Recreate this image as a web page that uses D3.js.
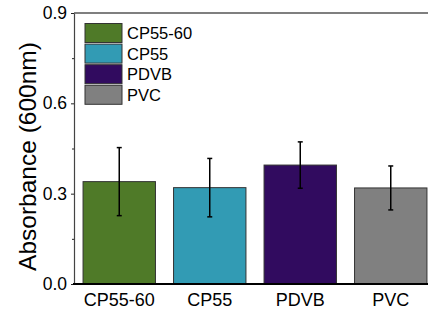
<!DOCTYPE html>
<html lang="en">
<head>
<meta charset="utf-8">
<title>Absorbance</title>
<script src="https://cdn.jsdelivr.net/npm/d3@7/dist/d3.min.js"></script>
<style>
  body { margin: 0; background: #fff; }
  svg { display: block; font-family: Arial, "Liberation Sans", sans-serif; }
</style>
</head>
<body>
<script>
var categories = ["CP55-60", "CP55", "PDVB", "PVC"];
var values = [0.340, 0.320, 0.395, 0.319];
var errors = [0.113, 0.097, 0.077, 0.073];
var colors = ["#4f7a28", "#329bb4", "#310b5f", "#808080"];
var yTicks = [0.0, 0.3, 0.6, 0.9];
var yMinor = [0.15, 0.45, 0.75];

var W = 428, H = 321;
var plotL = 74, plotT = 13, plotB = 284, plotR = 436;

var svg = d3.select("body").append("svg").attr("width", W).attr("height", H);

var x = d3.scaleBand().domain(categories).range([plotL, plotR])
  .paddingInner(0.2).paddingOuter(0.1);
var y = d3.scaleLinear().domain([0, 0.9]).range([plotB, plotT]);

// bars
svg.selectAll("rect.bar").data(categories).enter().append("rect")
  .attr("class", "bar")
  .attr("x", function(d) { return x(d); })
  .attr("y", function(d, i) { return y(values[i]); })
  .attr("width", x.bandwidth())
  .attr("height", function(d, i) { return y(0) - y(values[i]); })
  .attr("fill", function(d, i) { return colors[i]; })
  .attr("stroke", "#333").attr("stroke-width", 1);

// error bars
var eb = svg.selectAll("g.err").data(categories).enter().append("g").attr("class", "err");
eb.append("line")
  .attr("x1", function(d) { return x(d) + x.bandwidth() / 2; })
  .attr("x2", function(d) { return x(d) + x.bandwidth() / 2; })
  .attr("y1", function(d, i) { return y(values[i] - errors[i]); })
  .attr("y2", function(d, i) { return y(values[i] + errors[i]); })
  .attr("stroke", "#000").attr("stroke-width", 1.5);
[1, -1].forEach(function(s) {
  eb.append("line")
    .attr("x1", function(d) { return x(d) + x.bandwidth() / 2 - 2.5; })
    .attr("x2", function(d) { return x(d) + x.bandwidth() / 2 + 2.5; })
    .attr("y1", function(d, i) { return y(values[i] + s * errors[i]); })
    .attr("y2", function(d, i) { return y(values[i] + s * errors[i]); })
    .attr("stroke", "#000").attr("stroke-width", 1.5);
});

// top frame line
svg.append("line").attr("x1", plotL).attr("x2", W).attr("y1", plotT).attr("y2", plotT)
  .attr("stroke", "#555").attr("stroke-width", 1.5);

// y axis
var yAxis = svg.append("g").attr("transform", "translate(" + plotL + ",0)")
  .call(d3.axisLeft(y).tickValues(yTicks).tickFormat(d3.format(".1f")).tickSizeInner(3).tickSizeOuter(0).tickPadding(4));
yAxis.select(".domain").attr("stroke", "#444").attr("stroke-width", 1.2);
yAxis.selectAll(".tick line").attr("stroke", "#222");
yAxis.selectAll(".tick text").attr("font-size", 17.5).attr("fill", "#000")
  .attr("font-family", "Arial, 'Liberation Sans', sans-serif");
svg.append("g").attr("transform", "translate(" + plotL + ",0)")
  .call(d3.axisLeft(y).tickValues(yMinor).tickSize(2).tickFormat(""))
  .call(function(g) { g.select(".domain").remove(); })
  .selectAll(".tick line").attr("stroke", "#222");

// x axis
var xAxis = svg.append("g").attr("transform", "translate(0," + plotB + ")")
  .call(d3.axisBottom(x).tickSize(0).tickPadding(9));
xAxis.select(".domain").remove();
xAxis.selectAll(".tick text").attr("font-size", 18).attr("fill", "#000")
  .attr("font-family", "Arial, 'Liberation Sans', sans-serif");
svg.append("line").attr("x1", plotL - 1).attr("x2", W).attr("y1", plotB).attr("y2", plotB)
  .attr("stroke", "#000").attr("stroke-width", 2);

// y title
svg.append("text")
  .attr("transform", "translate(36," + ((plotT + plotB) / 2 + 8) + ") rotate(-90)")
  .attr("text-anchor", "middle")
  .attr("font-size", 24.5)
  .attr("fill", "#000")
  .text("Absorbance (600nm)");

// legend
var leg = svg.selectAll("g.leg").data(categories).enter().append("g")
  .attr("class", "leg")
  .attr("transform", function(d, i) { return "translate(85," + (23.5 + i * 20.6) + ")"; });
leg.append("rect").attr("width", 37).attr("height", 19)
  .attr("fill", function(d, i) { return colors[i]; })
  .attr("stroke", "#333").attr("stroke-width", 1);
leg.append("text").attr("x", 42).attr("y", 15.5)
  .attr("font-size", 16.5).attr("fill", "#000")
  .text(function(d) { return d; });
</script>
</body>
</html>
